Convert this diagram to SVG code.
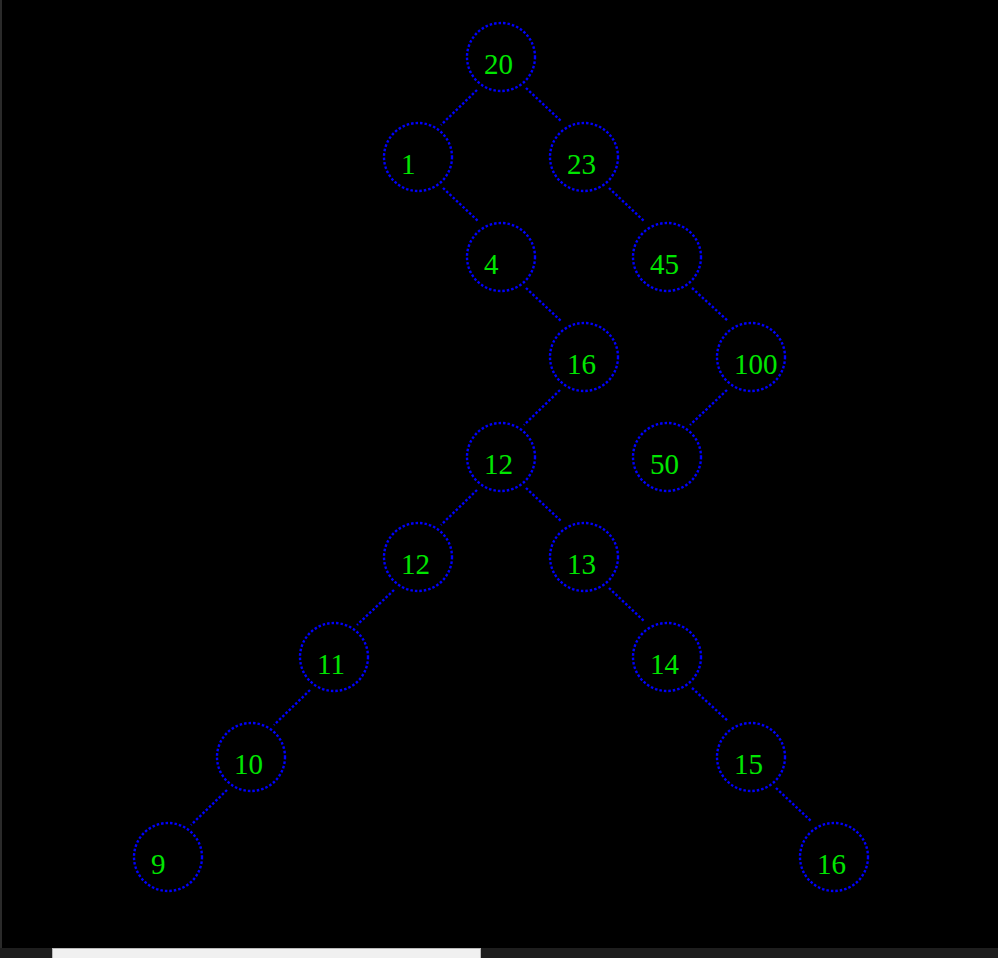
<svg xmlns="http://www.w3.org/2000/svg" width="998" height="958" viewBox="0 0 998 958">
<style>
.n circle{fill:none;stroke:#0000ff;stroke-width:2.4;stroke-dasharray:2.5 2}
.n text{font-family:"Liberation Serif","Times New Roman",serif;font-size:29px;fill:#00e600}
#edges line{stroke:#0000ff;stroke-width:2.4;stroke-dasharray:2.5 2}
</style>
<rect x="0" y="0" width="998" height="958" fill="#000"/>
<rect x="0" y="0" width="2" height="948" fill="#2a2a2a"/>
<g id="edges">
<line x1="477" y1="90" x2="441" y2="125"/>
<line x1="526" y1="88" x2="561" y2="121"/>
<line x1="443" y1="188" x2="478" y2="221"/>
<line x1="609" y1="188" x2="644" y2="221"/>
<line x1="526" y1="288" x2="561" y2="321"/>
<line x1="692" y1="288" x2="728" y2="321"/>
<line x1="560" y1="390" x2="524" y2="425"/>
<line x1="727" y1="390" x2="690" y2="425"/>
<line x1="477" y1="490" x2="441" y2="525"/>
<line x1="526" y1="488" x2="561" y2="521"/>
<line x1="394" y1="590" x2="357" y2="625"/>
<line x1="609" y1="588" x2="644" y2="621"/>
<line x1="310" y1="690" x2="274" y2="725"/>
<line x1="692" y1="688" x2="728" y2="721"/>
<line x1="227" y1="790" x2="191" y2="825"/>
<line x1="776" y1="788" x2="811" y2="821"/>
</g>
<g id="n20" class="n"><circle cx="501" cy="57" r="34"/><text x="484" y="74">20</text></g>
<g id="n1" class="n"><circle cx="418" cy="157" r="34"/><text x="401" y="174">1</text></g>
<g id="n23" class="n"><circle cx="584" cy="157" r="34"/><text x="567" y="174">23</text></g>
<g id="n4" class="n"><circle cx="501" cy="257" r="34"/><text x="484" y="274">4</text></g>
<g id="n45" class="n"><circle cx="667" cy="257" r="34"/><text x="650" y="274">45</text></g>
<g id="n16a" class="n"><circle cx="584" cy="357" r="34"/><text x="567" y="374">16</text></g>
<g id="n100" class="n"><circle cx="751" cy="357" r="34"/><text x="734" y="374">100</text></g>
<g id="n12a" class="n"><circle cx="501" cy="457" r="34"/><text x="484" y="474">12</text></g>
<g id="n50" class="n"><circle cx="667" cy="457" r="34"/><text x="650" y="474">50</text></g>
<g id="n12b" class="n"><circle cx="418" cy="557" r="34"/><text x="401" y="574">12</text></g>
<g id="n13" class="n"><circle cx="584" cy="557" r="34"/><text x="567" y="574">13</text></g>
<g id="n11" class="n"><circle cx="334" cy="657" r="34"/><text x="317" y="674">11</text></g>
<g id="n14" class="n"><circle cx="667" cy="657" r="34"/><text x="650" y="674">14</text></g>
<g id="n10" class="n"><circle cx="251" cy="757" r="34"/><text x="234" y="774">10</text></g>
<g id="n15" class="n"><circle cx="751" cy="757" r="34"/><text x="734" y="774">15</text></g>
<g id="n9" class="n"><circle cx="168" cy="857" r="34"/><text x="151" y="874">9</text></g>
<g id="n16b" class="n"><circle cx="834" cy="857" r="34"/><text x="817" y="874">16</text></g>
<rect x="0" y="948" width="998" height="10" fill="#1e1e1e"/>
<rect x="52.5" y="948.5" width="428" height="10" fill="#f0f0f0" stroke="#b8b8b8" stroke-width="1"/>
</svg>
